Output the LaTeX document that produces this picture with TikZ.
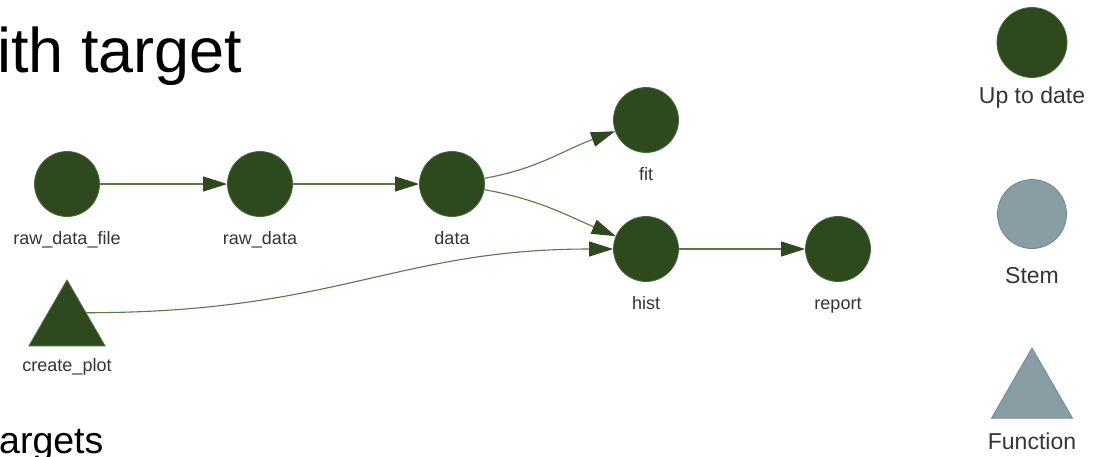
\documentclass[tikz,border=0pt]{standalone}
\usepackage{fontspec}
\setmainfont{Liberation Sans}
\usetikzlibrary{shapes.geometric,arrows.meta}
\definecolor{uptodate}{HTML}{2E491D}
\definecolor{uptodateline}{HTML}{4B6A3A}
\definecolor{edgegreen}{HTML}{557A46}
\definecolor{stemfill}{HTML}{899DA4}
\definecolor{stemline}{HTML}{6F878E}
\definecolor{labelgray}{HTML}{343434}
\tikzstyle{targetstyle}=[circle, draw=uptodateline, fill=uptodate, line width=0.8pt,
  minimum size=65pt, inner sep=0pt]
\tikzstyle{funcstyle}=[regular polygon, regular polygon sides=3, draw=uptodateline,
  fill=uptodate, line width=0.8pt, minimum size=87.8pt, inner sep=0pt]
\tikzstyle{tlabel}=[font=\fontsize{18}{20}\selectfont, text=labelgray, anchor=base, inner sep=0pt]
\tikzstyle{klabel}=[tlabel, font=\fontsize{23}{26}\selectfont]
\tikzstyle{keytarget}=[targetstyle, minimum size=70pt]
\tikzstyle{keystem}=[keytarget, fill=stemfill, draw=stemline, minimum size=69pt]
\tikzstyle{keyfunc}=[funcstyle, fill=stemfill, draw=stemline, minimum size=93.5pt]
\tikzstyle{line}=[draw, line width=1.1pt, color=edgegreen,
  -{Triangle[length=24pt,width=15pt,color=uptodate]}]
\newcommand{\target}[2]{node (t#1) [targetstyle] {} +(0,-60) node (l#1) [tlabel] {#2}}

\begin{document}
\begin{tikzpicture}[x=1pt, y=1pt]
\useasboundingbox (0,0) rectangle (1101,-456);

% Cut-off heading text
\node (head) [anchor=base west, inner sep=0pt, font=\fontsize{63}{70}\selectfont] at (-3,-72) {ith target};
\node (foot) [anchor=base west, inner sep=0pt, font=\fontsize{37.5}{40}\selectfont] at (-1,-453) {argets};

% Draw the targets
\path (67,-184)  \target{1}{raw\_data\_file};
\path (260,-184) \target{2}{raw\_data};
\path (452,-184) \target{3}{data};
\path (646,-120) \target{4}{fit};
\path (646,-249) \target{5}{hist};
\path (838,-249) \target{6}{report};
\node (f1) [funcstyle] at (67,-323.9) {};
\node (lf1) [tlabel] at (67,-371) {create\_plot};

% Draw the dependencies
\path [line] (t1) -- (t2);
\path [line] (t2) -- (t3);
\path [line] (t3) to[out=10, in=200] (t4);
\path [line] (t3) to[out=-10, in=157] (t5);
\path [line] (t5) -- (t6);
\path [line] (f1.side 3) .. controls +(250,0) and +(-250,0) .. (t5);

% Legend
\node (k1) [keytarget] at (1032,-42.5) {};
\node (kl1) [klabel] at (1032,-103) {Up to date};
\node (k2) [keystem] at (1032,-214) {};
\node (kl2) [klabel] at (1032,-283) {Stem};
\node (k3) [keyfunc] at (1032,-394.8) {};
\node (kl3) [klabel] at (1032,-449) {Function};

\end{tikzpicture}
\end{document}
